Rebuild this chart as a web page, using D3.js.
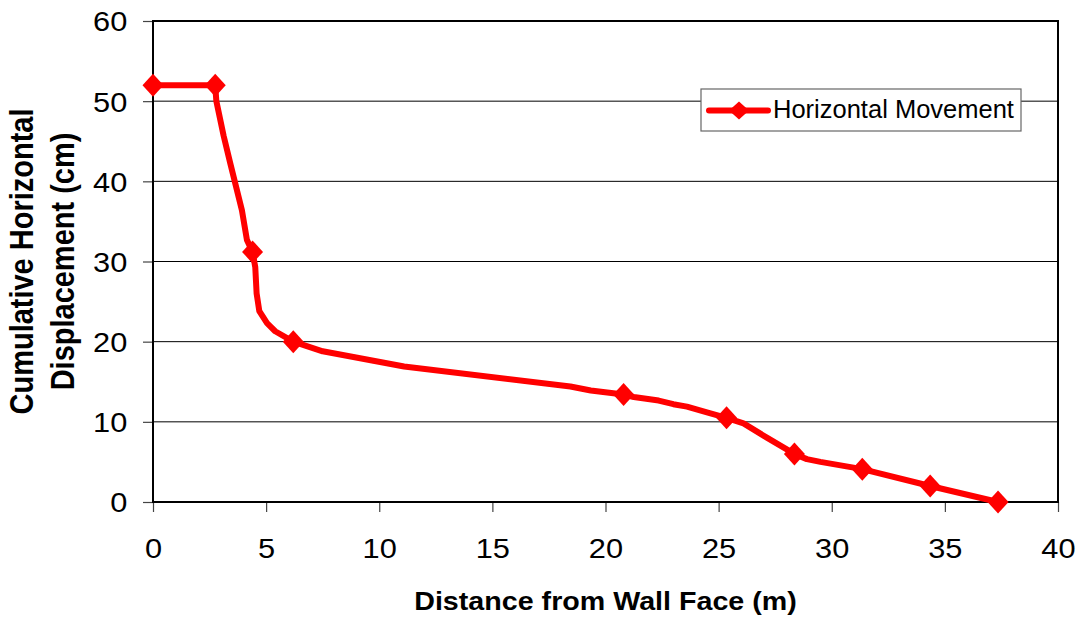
<!DOCTYPE html>
<html>
<head>
<meta charset="utf-8">
<script src="https://cdn.jsdelivr.net/npm/d3@7"></script>
<style>
  html, body { margin: 0; padding: 0; background: #fff; }
  svg { display: block; font-family: "Liberation Sans", Arial, sans-serif; }
</style>
</head>
<body>
<svg id="chart" width="1080" height="618"></svg>
<script>
// ---- data ----
const lineX = [0, 2.75, 2.8, 3.12, 3.42, 3.93, 4.15, 4.4, 4.52, 4.58, 4.7, 5.04, 5.4, 6.2, 7.5, 11.1, 18.45, 19.35, 20.8, 21.25, 22.35, 23.0, 23.6, 24.6, 25.35, 26.1, 27.15, 28.35, 28.9, 29.5, 31.35, 34.35, 37.35];
const lineY = [52, 52, 50, 45.7, 42.2, 36.4, 32.7, 31.2, 29.3, 26.0, 23.8, 22.3, 21.3, 20.0, 18.8, 16.9, 14.4, 13.9, 13.4, 13.1, 12.65, 12.2, 11.9, 11.1, 10.5, 9.8, 8.0, 6.0, 5.35, 5.0, 4.1, 2.0, 0];
const markerX = [0, 2.75, 4.4, 6.2, 20.8, 25.35, 28.35, 31.35, 34.35, 37.35];
const markerY = [52, 52, 31.2, 20.0, 13.4, 10.5, 6.0, 4.1, 2.0, 0];
const xTicks = [0, 5, 10, 15, 20, 25, 30, 35, 40];
const yTicks = [0, 10, 20, 30, 40, 50, 60];
const seriesName = "Horizontal Movement";
const xTitle = "Distance from Wall Face (m)";
const yTitleLines = ["Cumulative Horizontal", "Displacement (cm)"];

// ---- layout ----
const L = 153, R = 1058, T = 21, B = 502;
const SX = 1.12; // horizontal text stretch seen in reference
const svg = d3.select("#chart");
const x = d3.scaleLinear().domain([0, 40]).range([L, R]);
const y = d3.scaleLinear().domain([0, 60]).range([B, T]);

// gridlines
svg.append("g").selectAll("line").data(yTicks.filter(d => d > 0 && d < 60)).join("line")
  .attr("x1", L).attr("x2", R).attr("y1", d => y(d)).attr("y2", d => y(d))
  .attr("stroke", "#000").attr("stroke-width", 1);

// axes
const yAxis = svg.append("g").attr("transform", `translate(${L},0)`)
  .call(d3.axisLeft(y).tickValues(yTicks).tickSize(10).tickPadding(13).tickFormat(d3.format("d")));
const xAxis = svg.append("g").attr("transform", `translate(0,${B})`)
  .call(d3.axisBottom(x).tickValues(xTicks).tickSize(10).tickPadding(26).tickFormat(d3.format("d")));
[xAxis, yAxis].forEach(g => {
  g.select(".domain").remove();
  g.selectAll(".tick line").attr("stroke", "#444").attr("stroke-width", 1.2);
  g.selectAll(".tick text").attr("font-size", 27.5).attr("fill", "#000")
    .attr("font-family", "'Liberation Sans', Arial, sans-serif");
});
yAxis.selectAll(".tick text").attr("transform", `scale(${SX},1)`).attr("dy", "0.36em");
xAxis.selectAll(".tick text").attr("transform", `scale(${SX},1)`);

// frame
svg.append("rect").attr("x", L).attr("y", T).attr("width", R - L).attr("height", B - T)
  .attr("fill", "none").attr("stroke", "#000").attr("stroke-width", 2);

// series line
const pts = lineX.map((d, i) => [d, lineY[i]]);
svg.append("path").datum(pts)
  .attr("d", d3.line().x(d => x(d[0])).y(d => y(d[1])))
  .attr("fill", "none").attr("stroke", "#ff0000").attr("stroke-width", 6)
  .attr("stroke-linejoin", "round").attr("stroke-linecap", "round");

const diamond = (w, h) => `M0,${-h}L${w},0L0,${h}L${-w},0Z`;
svg.append("g").selectAll("path").data(markerX.map((d, i) => [d, markerY[i]])).join("path")
  .attr("transform", d => `translate(${x(d[0])},${y(d[1])})`)
  .attr("d", diamond(10.5, 11.5)).attr("fill", "#ff0000");

// legend
const lg = svg.append("g");
lg.append("rect").attr("x", 701).attr("y", 89).attr("width", 320).attr("height", 42)
  .attr("fill", "#fff").attr("stroke", "#666").attr("stroke-width", 1.2);
lg.append("line").attr("x1", 709).attr("x2", 768).attr("y1", 110.5).attr("y2", 110.5)
  .attr("stroke", "#ff0000").attr("stroke-width", 6).attr("stroke-linecap", "round");
lg.append("path").attr("transform", "translate(739,110.5)").attr("d", diamond(10, 9)).attr("fill", "#ff0000");
lg.append("text").attr("x", 773).attr("y", 118).attr("font-size", 25.5).attr("fill", "#000").text(seriesName);

// axis titles
svg.append("g").attr("transform", `translate(${(L + R) / 2},610) scale(${SX},1)`)
  .append("text").attr("text-anchor", "middle").attr("font-size", 25.6).attr("font-weight", "bold")
  .attr("fill", "#000").text(xTitle);

const yBase = [33, 74];
yTitleLines.forEach((t, i) => {
  svg.append("g").attr("transform", `translate(${yBase[i]},${(T + B) / 2}) scale(${SX},1) rotate(-90)`)
    .append("text").attr("text-anchor", "middle").attr("font-size", 29).attr("font-weight", "bold")
    .attr("fill", "#000").text(t);
});
</script>
</body>
</html>
